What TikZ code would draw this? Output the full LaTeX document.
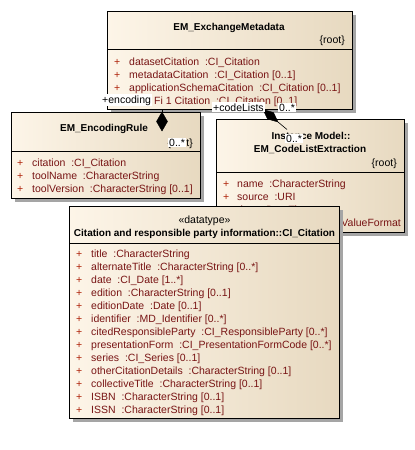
\documentclass[tikz,border=0pt]{standalone}
\usepackage{fontspec}
\setmainfont{Liberation Sans}
\usetikzlibrary{shapes.geometric}
\definecolor{attrc}{RGB}{120,20,20}
\definecolor{plusc}{RGB}{175,35,10}
\definecolor{boxl}{RGB}{253,245,232}
\definecolor{boxr}{RGB}{231,217,192}
\definecolor{shadowc}{RGB}{165,165,165}
\tikzset{
  classbox/.style={draw=black, line width=0.9pt, left color=boxl, right color=boxr,
    rectangle, inner sep=0pt, anchor=north west},
  boxshadow/.style={fill=shadowc},
  txt/.style={inner sep=0pt, font=\fontsize{10.5}{12}\selectfont},
  ctitle/.style={txt, anchor=base, font=\fontsize{10}{12}\selectfont\bfseries},
  tag/.style={txt, anchor=base east},
  plussign/.style={txt, anchor=base west, text=plusc},
  attr/.style={txt, anchor=base west, text=attrc},
  rolelabel/.style={txt, fill=white, inner sep=1pt, anchor=base west},
  sepline/.style={line width=0.9pt},
  comp/.style={fill=black, draw=black, line width=0.4pt},
}
% class box with its shadow: name, x1, y1, x2, y2
\newcommand\classrect[5]{%
  \fill[boxshadow] (#2+4,#3+4) rectangle (#4+4,#5+4);
  \node[classbox, minimum width=#4pt-#2pt, minimum height=#5pt-#3pt] (#1) at (#2,#3) {};
}
% one attribute row: plus x, name x, baseline y, text
\newcommand\attrrow[4]{%
  \node[plussign] at (#1,#3) {+};
  \node[attr] at (#2,#3) {#4};
}
\begin{document}
\begin{tikzpicture}[x=1pt,y=-1pt]
\useasboundingbox[fill=white] (0,0) rectangle (415,450);

% ---- EM_ExchangeMetadata
\classrect{em}{107}{11}{352}{109}
\node[ctitle] (emt) at (229,30) {EM\_ExchangeMetadata};
\node[tag] (emr) at (345,43) {\{root\}};
\draw[sepline] (107,49) -- (352,49);
\attrrow{114}{129}{65}{datasetCitation\ \ :CI\_Citation}
\attrrow{114}{129}{78}{metadataCitation\ \ :CI\_Citation [0..1]}
\attrrow{114}{129}{91}{applicationSchemaCitation\ \ :CI\_Citation [0..1]}
\node[attr] (emf) at (154,104) {Fi 1 Citation\ \ :CI\_Citation [0..1]};

% ---- EM_CodeListExtraction
\classrect{cle}{216}{119}{404}{232}
\node[ctitle] (clp) at (311,139) {Instance Model::};
\node[ctitle] (clt) at (310,152) {EM\_CodeListExtraction};
\node[tag] (clr) at (397,166) {\{root\}};
\draw[sepline] (216,172) -- (404,172);
\attrrow{223}{237}{187}{name\ \ :CharacterString}
\attrrow{223}{237}{200}{source\ \ :URI}
\attrrow{223}{237}{213}{date\ \ :DateTime}
\node[attr, anchor=base east] (clv) at (401,226) {format\ \ :ValueFormat};
\node[plussign] at (223,226) {+};

% ---- EM_EncodingRule
\classrect{er}{11}{112}{200}{198}
\node[ctitle] (ert) at (104,131) {EM\_EncodingRule};
\node[tag] (err) at (193,146) {\{root\}};
\draw[sepline] (11,151) -- (200,151);
\attrrow{17}{32}{166}{citation\ \ :CI\_Citation}
\attrrow{17}{32}{179}{toolName\ \ :CharacterString}
\attrrow{17}{32}{192}{toolVersion\ \ :CharacterString [0..1]}

% ---- composition connectors
\coordinate (encA) at (162,109);
\coordinate (encB) at (162,112);
\draw[line width=0.5pt] (encA) -- (encB);
\fill[comp] (encB) -- (167.5,121.5) -- (162,131) -- (156.5,121.5) -- cycle;

\coordinate (clA) at (263,109.5);
\coordinate (clB) at (278,122);
\coordinate (clC) at (287,129.5);
\fill[comp] (clA) -- (273.5,112.5) -- (clB) -- (267.5,119) -- cycle;
\draw[line width=0.6pt] (clB) -- (clC);

% ---- role names and multiplicities
\node[rolelabel] (encr) at (101,103) {+encoding};
\node[rolelabel] (encm) at (168,146) {0..*};
\node[rolelabel] (clr1) at (212,111) {+codeLists};
\node[rolelabel] (clm1) at (278,111) {0..*};
\node[rolelabel] (clm2) at (285,142) {0..*};

% ---- CI_Citation
\classrect{cit}{69}{206}{339}{418}
\node[txt, anchor=base] (cits) at (204.5,223) {«datatype»};
\node[ctitle] (citt) at (204.5,236) {Citation and responsible party information::CI\_Citation};
\draw[sepline] (69,243) -- (339,243);
\attrrow{76}{91}{257}{title\ \ :CharacterString}
\attrrow{76}{91}{270}{alternateTitle\ \ :CharacterString [0..*]}
\attrrow{76}{91}{283}{date\ \ :CI\_Date [1..*]}
\attrrow{76}{91}{296}{edition\ \ :CharacterString [0..1]}
\attrrow{76}{91}{309}{editionDate\ \ :Date [0..1]}
\attrrow{76}{91}{322}{identifier\ \ :MD\_Identifier [0..*]}
\attrrow{76}{91}{335}{citedResponsibleParty\ \ :CI\_ResponsibleParty [0..*]}
\attrrow{76}{91}{348}{presentationForm\ \ :CI\_PresentationFormCode [0..*]}
\attrrow{76}{91}{361}{series\ \ :CI\_Series [0..1]}
\attrrow{76}{91}{374}{otherCitationDetails\ \ :CharacterString [0..1]}
\attrrow{76}{91}{387}{collectiveTitle\ \ :CharacterString [0..1]}
\attrrow{76}{91}{400}{ISBN\ \ :CharacterString [0..1]}
\attrrow{76}{91}{413}{ISSN\ \ :CharacterString [0..1]}
\end{tikzpicture}
\end{document}
